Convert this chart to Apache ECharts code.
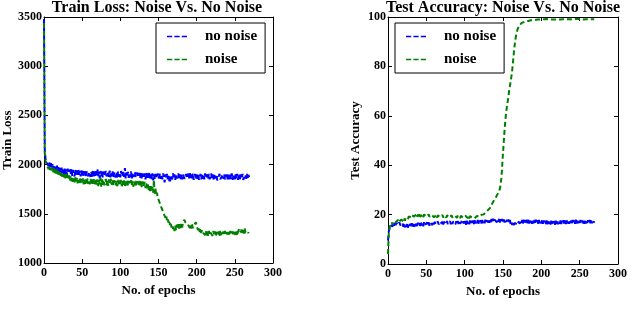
<!DOCTYPE html>
<html>
<head>
<meta charset="utf-8">
<script src="https://cdn.jsdelivr.net/npm/echarts@6/dist/echarts.min.js"></script>
<style>
html,body{margin:0;padding:0;background:#fff;}
#c{width:640px;height:319px;}
</style>
</head>
<body>
<div id="c"></div>
<script>
const seriesNames = ['no noise', 'noise'];
const titles = ['Train Loss: Noise Vs. No Noise', 'Test Accuracy: Noise Vs. No Noise'];
const xName = 'No. of epochs';
const yNames = ['Train Loss', 'Test Accuracy'];

const trainNoNoise = [
3480,2150,2060,2030,2010,
2040,1985,2025,1970,2015,
1960,2005,1950,1995,1940,1985,1935,1990,1930,1975,
1925,1980,1915,1970,1910,1965,1905,1960,1900,1955,
1895,1960,1910,1890,1950,1900,1955,1885,1945,1905,
1880,1950,1900,1940,1885,1945,1895,1935,1880,1940,
1900,1875,1945,1890,1935,1870,1930,1940,1880,1925,
1935,1875,1925,1865,1940,1880,1930,1870,1935,1890,
1955,1875,1925,1860,1935,1880,1940,1870,1930,1885,
1875,1935,1880,1865,1930,1875,1940,1870,1925,1880,
1930,1865,1920,1935,1870,1925,1860,1930,1875,1920,
1870,1935,1880,1865,1925,1875,1965,1860,1920,1875,
1925,1865,1915,1870,1930,1860,1920,1875,1865,1925,
1875,1860,1920,1870,1855,1915,1865,1925,1860,1910,
1920,1860,1910,1850,1915,1865,1910,1855,1920,1860,
1905,1850,1910,1840,1900,1855,1905,1860,1850,1910,
1860,1845,1905,1855,1900,1850,1910,1860,1820,1900,
1855,1905,1850,1900,1845,1815,1895,1905,1850,1910,
1855,1900,1845,1905,1860,1850,1910,1855,1900,1845,
1905,1850,1900,1915,1855,1845,1905,1860,1850,1910,
1860,1925,1850,1900,1855,1910,1845,1860,1905,1850,
1900,1855,1910,1845,1860,1905,1850,1900,1855,1905,
1850,1910,1860,1845,1900,1855,1905,1850,1860,1910,
1855,1900,1845,1905,1860,1850,1900,1840,1860,1855,
1905,1850,1860,1845,1900,1855,1905,1850,1860,1900,
1845,1860,1905,1850,1900,1855,1910,1845,1860,1905,
1850,1900,1855,1905,1845,1860,1910,1850,1900,1855,
1905,1845,1860,1850,1900,1855,1905,1850,1895,1860
];

const trainNoise = [
3440,2120,2040,2010,1995,
2000,1955,1990,1945,1975,
1940,1970,1925,1960,1915,1955,1910,1945,1900,1940,
1895,1930,1885,1925,1875,1915,1870,1910,1860,1905,
1855,1895,1845,1890,1840,1880,1830,1875,1825,1870,
1820,1870,1815,1865,1810,1860,1815,1865,1805,1855,
1810,1860,1800,1855,1805,1850,1795,1860,1805,1845,
1800,1855,1795,1850,1805,1790,1860,1800,1845,1795,
1850,1780,1845,1800,1865,1775,1850,1795,1845,1790,
1805,1855,1790,1845,1785,1850,1800,1790,1855,1795,
1845,1785,1840,1850,1790,1835,1780,1845,1795,1840,
1790,1845,1780,1835,1795,1840,1775,1835,1790,1845,
1785,1835,1795,1780,1840,1790,1835,1775,1830,1790,
1835,1780,1830,1845,1785,1835,1790,1840,1770,1830,
1780,1770,1825,1760,1810,1750,1800,1740,1790,1730,
1780,1725,1775,1715,1845,1705,1755,1690,1715,1665,
1675,1625,1630,1580,1600,1540,1555,1500,1520,1460,
1485,1435,1460,1410,1435,1385,1415,1360,1390,1345,
1375,1325,1380,1335,1390,1345,1395,1350,1395,1355,
1400,1360,1410,1395,1440,1415,1435,1425,1400,1380,
1395,1355,1390,1350,1395,1355,1340,1390,1375,1415,
1370,1380,1335,1360,1315,1350,1305,1335,1310,1290,
1325,1285,1330,1280,1320,1275,1325,1285,1310,1290,
1320,1275,1325,1280,1320,1270,1315,1325,1280,1320,
1275,1325,1285,1310,1280,1320,1285,1325,1280,1315,
1320,1275,1315,1280,1325,1285,1275,1320,1280,1315,
1325,1280,1320,1275,1315,1305,1350,1330,1310,1355,
1305,1345,1300,1350,1310,1325,1300,1320,1300,1325
];

const testNoNoise = [
9.5,13.0,14.8,15.8,15.0,16.6,15.2,16.8,15.5,16.7,
15.6,16.9,15.8,16.6,15.4,16.8,15.7,16.5,15.3,16.7,
15.1,16.5,14.8,16.2,15.0,16.4,14.7,16.1,15.2,16.3,
15.0,16.5,15.2,16.4,15.1,16.6,15.3,16.5,15.4,16.7,
15.5,16.6,15.4,16.8,15.6,16.5,15.3,16.9,15.7,16.4,
15.6,16.8,15.7,16.9,15.5,16.7,15.9,17.0,15.8,16.8,
15.9,17.1,16.0,16.8,15.8,17.2,16.1,16.9,16.0,17.2,
16.2,17.3,16.0,17.1,16.3,17.2,16.1,17.4,16.2,17.0,
16.3,17.3,16.1,17.4,16.2,17.2,16.4,17.5,16.1,17.3,
16.3,17.4,16.2,17.5,16.4,17.2,16.0,17.4,16.3,17.3,
16.2,17.4,15.9,17.5,16.3,17.3,16.1,17.6,16.4,17.5,
16.3,17.6,16.2,17.7,16.4,17.5,16.5,17.8,16.3,17.6,
16.5,17.7,16.4,17.8,16.6,17.6,16.5,17.9,16.7,17.7,
16.8,18.0,16.7,18.1,16.9,18.2,17.0,18.3,17.1,18.0,
17.2,18.3,16.9,18.2,17.1,18.4,16.8,18.1,17.0,18.2,
16.9,18.0,16.8,18.1,17.0,17.9,16.7,18.0,16.6,17.8,
16.0,16.9,15.8,16.8,15.7,16.6,15.9,17.0,16.1,17.2,
16.5,17.6,16.4,17.7,16.6,17.8,16.3,17.9,16.5,17.7,
16.6,17.9,16.5,18.0,16.4,17.8,16.6,17.9,16.3,17.7,
16.5,17.8,16.4,17.9,16.6,17.7,16.3,17.8,16.5,17.6,
16.4,17.7,16.3,17.6,16.5,17.5,16.2,17.6,16.1,17.5,
16.3,17.4,16.0,17.5,16.2,17.3,16.1,17.4,15.9,17.5,
16.2,17.5,16.1,17.4,16.3,17.6,16.2,17.5,16.4,17.7,
16.3,17.6,16.2,17.8,16.4,17.7,16.3,17.9,16.5,17.6,
16.4,17.8,16.5,17.6,16.3,17.9,16.4,17.7,16.5,17.6,
16.6,17.8,16.4,17.6,16.5,17.7,16.3,17.8,16.4,17.6,
16.6,17.7,16.5,17.8,16.4,17.6,16.5,17.5,16.6,17.4
];

const testNoise = [
4.0,12.0,14.5,15.8,15.6,16.8,15.9,17.3,16.5,17.4,
16.8,17.6,16.7,17.9,16.9,17.7,17.1,18.0,17.2,17.9,
17.3,18.4,17.5,18.6,17.8,18.9,18.1,19.2,18.4,19.5,
18.9,19.8,19.1,20.1,19.2,20.0,19.3,20.2,19.1,20.0,
19.0,20.1,19.2,20.0,19.1,19.9,18.9,20.1,19.3,19.8,
19.2,19.9,19.0,20.1,19.1,19.8,18.9,19.9,19.2,19.6,
18.9,19.7,19.0,19.8,18.7,19.7,18.9,19.6,19.0,19.7,
18.6,19.8,18.8,19.7,18.9,19.5,18.8,19.7,19.0,19.6,
18.8,19.6,18.9,19.7,18.8,19.5,18.9,19.6,18.8,19.7,
18.7,19.6,18.8,19.7,18.6,19.5,18.9,19.4,18.8,19.6,
18.9,19.5,18.7,19.7,18.6,19.5,18.5,19.4,18.8,19.3,
18.7,19.4,18.9,18.5,19.3,18.8,19.5,18.7,19.6,19.1,
19.6,19.3,19.9,19.6,20.4,20.1,20.7,20.6,21.2,21.0,
21.5,22.0,22.4,22.8,23.0,23.3,24.5,25.2,25.6,26.0,
26.5,27.2,27.8,28.3,28.8,29.5,30.5,32.5,35.0,40.0,
45.0,49.5,54.0,58.0,61.0,63.5,65.5,67.5,70.0,72.0,
74.0,76.0,78.5,81.5,85.0,88.0,90.5,92.5,94.0,95.0,
95.8,96.4,96.8,97.2,97.5,97.8,98.0,97.9,98.2,98.1,
98.3,98.2,98.5,98.4,98.6,98.5,98.7,98.6,98.8,98.7,
98.8,98.9,98.8,99.0,98.9,99.0,98.9,99.1,99.0,98.9,
99.1,99.0,99.2,99.0,99.1,98.9,99.1,99.2,99.0,99.1,
99.0,99.2,99.1,99.0,99.2,99.1,99.0,99.2,99.1,99.0,
99.1,99.2,99.0,99.1,99.2,99.0,99.1,99.2,99.1,99.0,
99.2,99.1,99.0,99.2,99.1,99.2,99.0,99.1,99.2,99.1,
99.0,99.2,99.1,99.2,99.0,99.1,99.2,99.1,99.0,99.2,
99.1,99.0,99.2,99.1,99.2,99.0,99.1,99.2,99.1,99.0,
99.2,99.1,99.0,99.2,99.1,99.2,99.0,99.1,99.2,99.1
];

const FONT = '"Liberation Serif", "DejaVu Serif", serif';
const BLUE = '#0000ff';
const GREEN = '#008000';

function pairs(arr) { return arr.map((v, i) => [i, v]); }

const grids = [
  { left: 42, top: 17, width: 231, height: 246 },
  { left: 388, top: 17, width: 230, height: 247 }
];

const yRanges = [
  { min: 1000, max: 3500, interval: 500 },
  { min: 0, max: 100, interval: 20 }
];
const yNameGaps = [30, 26];

const lineColor = '#000';
const xAxes = [], yAxes = [];
for (let g = 0; g < 2; g++) {
  const base = {
    gridIndex: g, type: 'value', min: 0, max: 300, interval: 50,
    axisLine: { show: true, onZero: false, lineStyle: { color: lineColor, width: 1 } },
    axisTick: { show: true, inside: true, length: 4, lineStyle: { color: lineColor } },
    splitLine: { show: false }
  };
  xAxes.push(Object.assign({}, base, {
    position: 'bottom',
    axisLabel: { show: true, margin: 4, fontFamily: FONT, fontWeight: 'bold', fontSize: 12, color: '#000',
                 formatter: v => String(v) },
    name: xName, nameLocation: 'middle', nameGap: 17,
    nameTextStyle: { fontFamily: FONT, fontWeight: 'bold', fontSize: 13, color: '#000' }
  }));
  xAxes.push(Object.assign({}, base, { position: 'top', axisLabel: { show: false } }));
  const ybase = {
    gridIndex: g, type: 'value', min: yRanges[g].min, max: yRanges[g].max, interval: yRanges[g].interval,
    axisLine: { show: true, onZero: false, lineStyle: { color: lineColor, width: 1 } },
    axisTick: { show: true, inside: true, length: 4, lineStyle: { color: lineColor } },
    splitLine: { show: false }
  };
  yAxes.push(Object.assign({}, ybase, {
    position: 'left',
    axisLabel: { show: true, margin: 2, fontFamily: FONT, fontWeight: 'bold', fontSize: 12, color: '#000',
                 formatter: v => String(v) },
    name: yNames[g], nameLocation: 'middle', nameGap: yNameGaps[g],
    nameTextStyle: { fontFamily: FONT, fontWeight: 'bold', fontSize: 13, color: '#000' }
  }));
  yAxes.push(Object.assign({}, ybase, { position: 'right', axisLabel: { show: false } }));
}

function mkSeries(name, data, color, g) {
  return {
    name: name, type: 'line', data: pairs(data),
    xAxisIndex: g * 2, yAxisIndex: g * 2,
    showSymbol: false, symbol: 'none', animation: false,
    lineStyle: { color: color, width: 2, type: [5, 3] },
    itemStyle: { color: color }
  };
}

const legendBase = {
  orient: 'vertical', itemWidth: 20, itemHeight: 2, itemGap: 8,
  icon: 'path://M0 0h6v2h-6z M8.5 0h6v2h-6z M17 0h6v2h-6z',
  padding: [6, 8, 6, 11],
  borderColor: '#000', borderWidth: 1, borderRadius: 0, backgroundColor: '#fff',
  textStyle: { fontFamily: FONT, fontWeight: 'bold', fontSize: 15, lineHeight: 14, color: '#000', padding: [0, 0, 0, 13] },
  data: seriesNames, selectedMode: false
};

const option = {
  animation: false,
  backgroundColor: '#fff',
  title: [
    { text: titles[0], left: 157, top: 0, textAlign: 'center', padding: 0,
      textStyle: { fontFamily: FONT, fontWeight: 'bold', fontSize: 16, color: '#000' } },
    { text: titles[1], left: 503, top: 0, textAlign: 'center', padding: 0,
      textStyle: { fontFamily: FONT, fontWeight: 'bold', fontSize: 16, color: '#000' } }
  ],
  grid: grids,
  xAxis: xAxes,
  yAxis: yAxes,
  legend: [
    Object.assign({}, legendBase, { left: 156, top: 23 }),
    Object.assign({}, legendBase, { left: 395, top: 23 })
  ],
  series: [
    mkSeries(seriesNames[0], trainNoNoise, BLUE, 0),
    mkSeries(seriesNames[1], trainNoise, GREEN, 0),
    mkSeries(seriesNames[0], testNoNoise, BLUE, 1),
    mkSeries(seriesNames[1], testNoise, GREEN, 1)
  ]
};

const chart = echarts.init(document.getElementById('c'), null, { renderer: 'canvas' });
chart.setOption(option);
</script>
</body>
</html>
